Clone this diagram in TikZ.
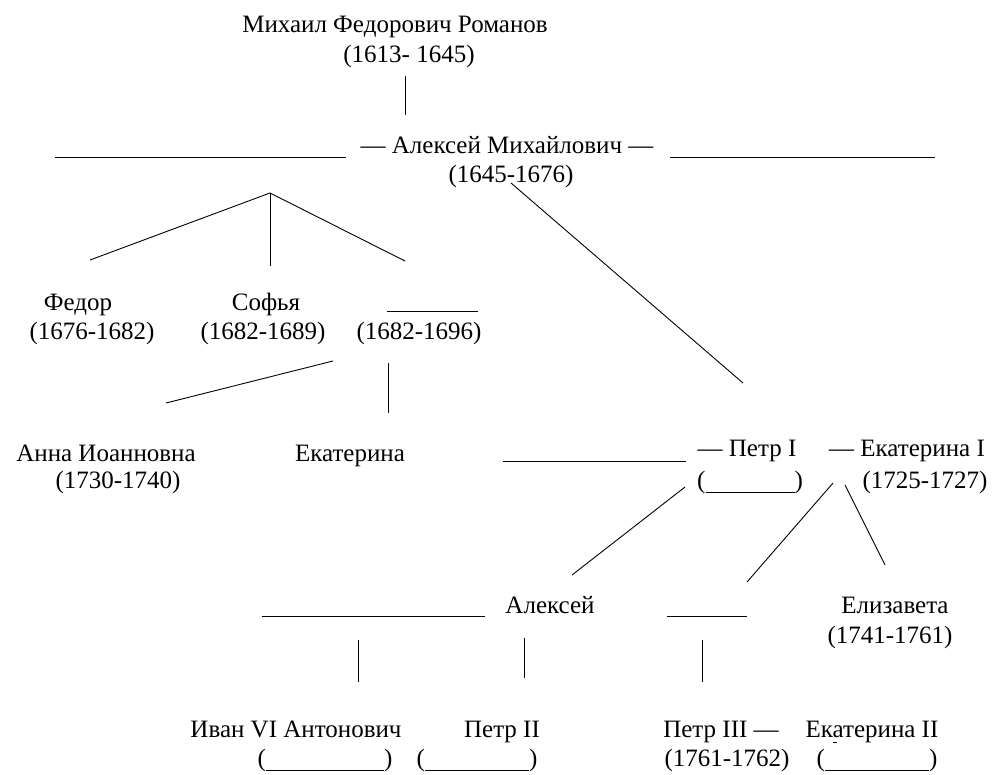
\documentclass[tikz,border=0pt]{standalone}
\usepackage{fontspec}
\setmainfont{Liberation Serif}
\usepackage{tikz}
\newcommand{\blankyrs}[1]{(\rule[-5pt]{#1}{0.9pt})}
\tikzset{
  lbl/.style={inner sep=0pt, anchor=base, font=\fontsize{25}{30}\selectfont},
  tie/.style={line width=0.9pt}
}

\begin{document}
\begin{tikzpicture}[x=1pt, y=-1pt]
\useasboundingbox (0,0) rectangle (995,774);
\node[lbl] (mikhail) at (395,32) {Михаил Федорович Романов};
\node[lbl] (mikhailYrs) at (409,62) {(1613- 1645)};
\node[lbl] (aleksei) at (507,153) {— Алексей Михайлович —};
\node[lbl] (alekseiYrs) at (511,182) {(1645-1676)};
\node[lbl] (fedor) at (78,310) {Федор};
\node[lbl] (fedorYrs) at (92,339) {(1676-1682)};
\node[lbl] (sofya) at (266,310) {Софья};
\node[lbl] (sofyaYrs) at (263,339) {(1682-1689)};
\node[lbl] (ivanYrs) at (419,339) {(1682-1696)};
\node[lbl] (anna) at (106,461) {Анна Иоанновна};
\node[lbl] (annaYrs) at (118,488) {(1730-1740)};
\node[lbl] (ekaterina) at (350,461) {Екатерина};
\node[lbl] (petr1) at (747,456) {— Петр I};
\node[lbl] (petr1Yrs) at (750,488) {\blankyrs{89pt}};
\node[lbl] (ekat1) at (907,456) {— Екатерина I};
\node[lbl] (ekat1Yrs) at (925,488) {(1725-1727)};
\node[lbl] (alexei) at (550,613) {Алексей};
\node[lbl] (elizaveta) at (895,613) {Елизавета};
\node[lbl] (elizavetaYrs) at (890,643) {(1741-1761)};
\node[lbl] (ivan6) at (296,737) {Иван VI Антонович};
\node[lbl] (ivan6Yrs) at (325,766) {\blankyrs{118pt}};
\node[lbl] (petr2) at (502,737) {Петр II};
\node[lbl] (petr2Yrs) at (477,766) {\blankyrs{104pt}};
\node[lbl] (petr3) at (721,737) {Петр III —};
\node[lbl] (petr3Yrs) at (727,766) {(1761-1762)};
\node[lbl] (ekat2) at (872,737) {Екатерина II};
\node[lbl] (ekat2Yrs) at (877,766) {\blankyrs{104pt}};

\coordinate (mikhailDown) at (405,76);
\coordinate (alekseiUp) at (405,115);
\coordinate (wifeL) at (55,157);
\coordinate (wifeLend) at (346,157);
\coordinate (wifeR) at (670,157);
\coordinate (wifeRend) at (935,157);
\coordinate (fork) at (270,193);
\coordinate (forkFedor) at (90,260);
\coordinate (forkSofya) at (270,266);
\coordinate (forkIvan) at (405,261);
\coordinate (ivanL) at (387,311);
\coordinate (ivanR) at (478,311);
\coordinate (ivanAnna) at (333,361);
\coordinate (annaUp) at (166,403);
\coordinate (ivanEkat) at (388,363);
\coordinate (ekatUp) at (388,413);
\coordinate (alekseiPetr) at (511,183);
\coordinate (petrUp) at (743,383);
\coordinate (petrWifeL) at (503,461);
\coordinate (petrWifeR) at (686,461);
\coordinate (petrAlexei) at (685,487);
\coordinate (alexeiUp) at (572,575);
\coordinate (ekat1Anna) at (833,483);
\coordinate (annaPUp) at (747,582);
\coordinate (ekat1Eliz) at (845,485);
\coordinate (elizUp) at (885,565);
\coordinate (alexeiWifeL) at (262,616);
\coordinate (alexeiWifeR) at (485,616);
\coordinate (annaPL) at (667,616);
\coordinate (annaPR) at (747,616);
\coordinate (ivan6Up) at (358,640);
\coordinate (ivan6Down) at (358,682);
\coordinate (petr2Up) at (524,638);
\coordinate (petr2Down) at (524,678);
\coordinate (petr3Up) at (702,640);
\coordinate (petr3Down) at (702,682);

\draw[tie] (mikhailDown) -- (alekseiUp);
\draw[tie] (wifeL) -- (wifeLend);
\draw[tie] (wifeR) -- (wifeRend);
\foreach \c in {forkFedor,forkSofya,forkIvan}
  \draw[tie] (fork) -- (\c);
\draw[tie] (ivanL) -- (ivanR);
\draw[tie] (ivanAnna) -- (annaUp);
\draw[tie] (ivanEkat) -- (ekatUp);
\draw[tie] (alekseiPetr) -- (petrUp);
\draw[tie] (petrWifeL) -- (petrWifeR);
\draw[tie] (petrAlexei) -- (alexeiUp);
\draw[tie] (ekat1Anna) -- (annaPUp);
\draw[tie] (ekat1Eliz) -- (elizUp);
\draw[tie] (alexeiWifeL) -- (alexeiWifeR);
\draw[tie] (annaPL) -- (annaPR);
\draw[tie] (ivan6Up) -- (ivan6Down);
\draw[tie] (petr2Up) -- (petr2Down);
\draw[tie] (petr3Up) -- (petr3Down);
\draw[tie] (833,742) -- (837,742);
\end{tikzpicture}
\end{document}
